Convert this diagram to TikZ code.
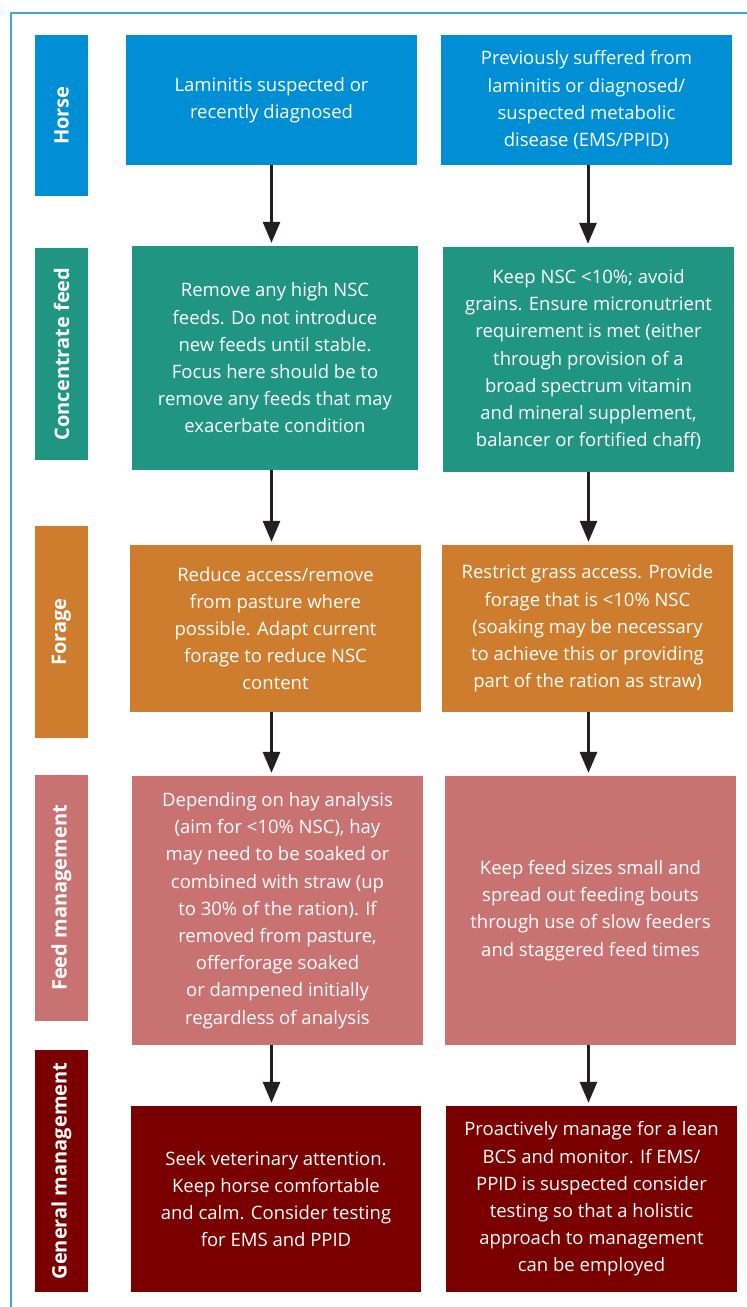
\documentclass[tikz,border=0pt]{standalone}
\usepackage{fontspec}
\setmainfont{Open Sans}
\usetikzlibrary{positioning,arrows.meta}

\definecolor{horseblue}{RGB}{0,143,213}
\definecolor{concteal}{RGB}{32,150,130}
\definecolor{foragebrown}{RGB}{205,125,45}
\definecolor{feedpink}{RGB}{201,114,114}
\definecolor{genred}{RGB}{122,0,0}
\definecolor{frameblue}{RGB}{70,165,220}
\definecolor{arrowblack}{RGB}{35,31,32}

\begin{document}
\begin{tikzpicture}[
        x=1pt, y=-1pt,
        >={Triangle[width=17pt,length=21pt]},
        stage/.style={rectangle, text=white, rotate=90, inner sep=0pt, minimum height=53pt,
            font=\fontsize{20}{22}\selectfont\bfseries},
        box/.style={rectangle, text=white, align=center, inner sep=0pt,
            font=\fontsize{18.5}{27.2}\selectfont},
        arrow/.style={->, line width=3pt, draw=arrowblack, shorten >=3pt}
    ]
    \useasboundingbox (0,0) rectangle (747,1307);
    \draw[frameblue, line width=1.2pt] (747,13) -- (11,13) -- (11,1307);

    % row labels
    \node[stage, fill=horseblue, minimum width=161pt] (lhorse) at (61.5,115.5) {Horse};
    \node[stage, fill=concteal, minimum width=212pt] (lconc) at (61.5,354) {Concentrate feed};
    \node[stage, fill=foragebrown, minimum width=212pt] (lforage) at (61.5,632) {Forage};
    \node[stage, fill=feedpink, minimum width=246pt] (lfeed) at (61.5,898) {Feed management};
    \node[stage, fill=genred, minimum width=242pt] (lgen) at (61.5,1171) {General management};

    % left column
    \node[box, fill=horseblue, minimum width=291pt, minimum height=130pt] (horse1) at (271.5,100)
        {Laminitis suspected or\\recently diagnosed};
    \node[box, fill=concteal, minimum width=286pt, minimum height=224pt] (conc1) at (275,358)
        {Remove any high NSC\\feeds. Do not introduce\\new feeds until stable.\\Focus here should be to\\remove any feeds that may\\exacerbate condition};
    \node[box, fill=foragebrown, minimum width=291pt, minimum height=167pt] (forage1) at (275.5,628.5)
        {Reduce access/remove\\from pasture where\\possible. Adapt current\\forage to reduce NSC\\content};
    \node[box, fill=feedpink, minimum width=291pt, minimum height=269pt] (feed1) at (277.5,910.5)
        {Depending on hay analysis\\(aim for <10\% NSC), hay\\may need to be soaked or\\combined with straw (up\\to 30\% of the ration). If\\removed from pasture,\\offerforage soaked\\or dampened initially\\regardless of analysis};
    \node[box, fill=genred, minimum width=290pt, minimum height=186pt] (gen1) at (276,1199)
        {Seek veterinary attention.\\Keep horse comfortable\\and calm. Consider testing\\for EMS and PPID};

    % right column
    \node[box, fill=horseblue, minimum width=291pt, minimum height=130pt] (horse2) at (586.5,100)
        {Previously suffered from\\laminitis or diagnosed/\\suspected metabolic\\disease (EMS/PPID)};
    \node[box, fill=concteal, minimum width=291pt, minimum height=225pt] (conc2) at (588.5,359.5)
        {Keep NSC <10\%; avoid\\grains. Ensure micronutrient\\requirement is met (either\\through provision of a\\broad spectrum vitamin\\and mineral supplement,\\balancer or fortified chaff)};
    \node[box, fill=foragebrown, minimum width=291pt, minimum height=167pt] (forage2) at (587.5,628.5)
        {Restrict grass access. Provide\\forage that is <10\% NSC\\(soaking may be necessary\\to achieve this or providing\\part of the ration as straw)};
    \node[box, fill=feedpink, minimum width=291pt, minimum height=269pt] (feed2) at (590.5,910.5)
        {Keep feed sizes small and\\spread out feeding bouts\\through use of slow feeders\\and staggered feed times};
    \node[box, fill=genred, minimum width=291pt, minimum height=186pt] (gen2) at (591.5,1199)
        {Proactively manage for a lean\\BCS and monitor. If EMS/\\PPID is suspected consider\\testing so that a holistic\\approach to management\\can be employed};

    \draw[arrow] (horse1.south) -- (horse1.south |- conc1.north);
    \draw[arrow] (conc1.south -| horse1.south) -- (horse1.south |- forage1.north);
    \draw[arrow] (forage1.south -| horse1.south) -- (horse1.south |- feed1.north);
    \draw[arrow] (feed1.south -| horse1.south) -- (horse1.south |- gen1.north);

    \draw[arrow] (horse2.south -| 588,0) -- (588,0 |- conc2.north);
    \draw[arrow] (conc2.south) -- (conc2.south |- forage2.north);
    \draw[arrow] (forage2.south -| conc2.south) -- (conc2.south |- feed2.north);
    \draw[arrow] (feed2.south -| conc2.south) -- (conc2.south |- gen2.north);
\end{tikzpicture}
\end{document}
